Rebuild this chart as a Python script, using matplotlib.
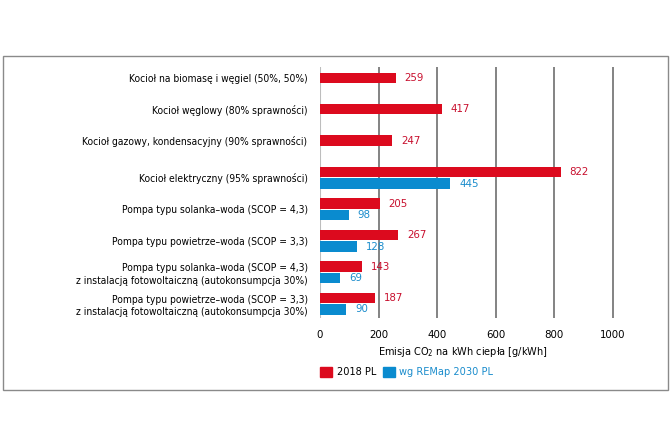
import matplotlib
matplotlib.use("Agg")
import matplotlib.pyplot as plt
import numpy as np
from matplotlib.patches import Rectangle, Patch

plt.rcParams['font.family'] = ['DejaVu Sans']
plt.rcParams['font.stretch'] = 'condensed'
plt.rcParams['mathtext.fontset'] = 'custom'
plt.rcParams['mathtext.rm'] = 'DejaVu Sans:stretch=condensed'
plt.rcParams['mathtext.default'] = 'regular'

categories = [
    "Kocioł na biomasę i węgiel (50%, 50%)",
    "Kocioł węglowy (80% sprawności)",
    "Kocioł gazowy, kondensacyjny (90% sprawności)",
    "Kocioł elektryczny (95% sprawności)",
    "Pompa typu solanka–woda (SCOP = 4,3)",
    "Pompa typu powietrze–woda (SCOP = 3,3)",
    "Pompa typu solanka–woda (SCOP = 4,3)\nz instalacją fotowoltaiczną (autokonsumpcja 30%)",
    "Pompa typu powietrze–woda (SCOP = 3,3)\nz instalacją fotowoltaiczną (autokonsumpcja 30%)",
]
values_2018 = [259, 417, 247, 822, 205, 267, 143, 187]
values_2030 = [None, None, None, 445, 98, 128, 69, 90]
series_names = ["2018 PL", "wg REMap 2030 PL"]
xticks = [0, 200, 400, 600, 800, 1000]

RED = '#dc0a1e'
BLUE = '#0a8bcf'
RED_TXT = '#c8102e'
BLUE_TXT = '#1a8ccc'

W, H = 670, 447
fig = plt.figure(figsize=(W/100, H/100), dpi=100)

fig.patches.append(Rectangle((3/W, 1-390/H), 665/W, 334/H, transform=fig.transFigure,
                             fill=False, edgecolor='#8a8a8a', linewidth=1.0))

ax = fig.add_axes([320/W, 1-318/H, (1100*0.2927)/W, (318-67)/H])

bh = 0.33
off = 0.36
ytick_pos = []
for i, (a, b) in enumerate(zip(values_2018, values_2030)):
    ax.barh(i, a, height=bh, color=RED, zorder=3)
    ax.text(a + 30, i, str(a), color=RED_TXT, fontsize=8.2, va='center', ha='left', zorder=4)
    if b is not None:
        ax.barh(i + off, b, height=bh, color=BLUE, zorder=3)
        ax.text(b + 30, i + off, str(b), color=BLUE_TXT, fontsize=8.2, va='center', ha='left', zorder=4)
        ytick_pos.append(i + off/2)
    else:
        ytick_pos.append(i)

ax.set_xlim(0, 1100)
ax.set_ylim(7.63, -0.34)
ax.set_yticks(ytick_pos)
ax.set_yticklabels(categories, fontsize=7.4, ha='right', linespacing=1.3)
ax.set_xticks(xticks)
ax.set_xticklabels([str(x) for x in xticks], fontsize=8.2)
ax.tick_params(axis='both', length=0)
ax.tick_params(axis='y', pad=9)
ax.tick_params(axis='x', pad=9)
for s in ax.spines.values():
    s.set_visible(False)
for x in xticks[1:]:
    ax.axvline(x, color='#6e6e6e', linewidth=1.2, zorder=1)
ax.axvline(0, color='#bdbdbd', linewidth=1.5, zorder=2)

fig.text(463/W, 1-352/H, "Emisja CO$_2$ na kWh ciepła [g/kWh]", fontsize=7.8,
         ha='center', va='center')

handles = [Patch(color=RED), Patch(color=BLUE)]
leg = fig.legend(handles, series_names, loc='center left',
                 bbox_to_anchor=(320/W, 1-372/H), ncol=2, frameon=False,
                 fontsize=7.8, handlelength=1.1, handleheight=1.1,
                 handletextpad=0.45, columnspacing=0.6, borderpad=0,
                 borderaxespad=0)
leg.get_texts()[1].set_color(BLUE_TXT)

fig.savefig("out.png", dpi=100, facecolor='white')
